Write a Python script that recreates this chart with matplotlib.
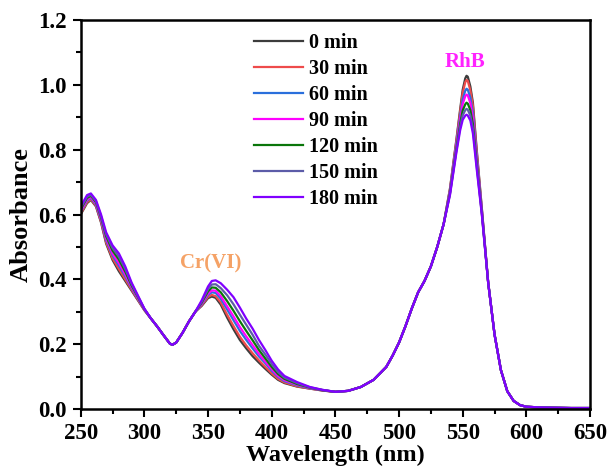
import matplotlib
matplotlib.use('Agg')
import matplotlib.pyplot as plt
from matplotlib.ticker import MultipleLocator

plt.rcParams['font.family'] = ['Liberation Serif', 'DejaVu Serif']
plt.rcParams['font.weight'] = 'bold'

# wavelength grid (nm)
wl = [250, 255, 258, 262, 266, 270, 275, 280, 285, 290, 295, 300,
      305, 310, 315, 320, 322, 325, 330, 335, 340,
      345, 350, 353, 356, 360, 365, 370, 375, 380, 385, 390, 395, 400, 405, 410, 420, 430, 440,
      450, 460, 470, 480, 490, 495, 500, 505, 510, 515, 520, 525, 530, 535,
      540, 545, 548, 550, 552, 553, 554, 556, 558, 561, 565,
      570, 575, 580, 585, 590, 595, 600, 610, 620, 635, 650]

# shared parts of the spectra (curves overlap here)
dip = [0.280, 0.255, 0.228, 0.202, 0.198, 0.205, 0.235, 0.270, 0.300]
valley = [0.053, 0.056, 0.068, 0.090, 0.130, 0.165, 0.205, 0.255, 0.310, 0.360, 0.395, 0.440, 0.500, 0.570]
tail = [0.390, 0.230, 0.120, 0.055, 0.025, 0.012, 0.007, 0.005, 0.004, 0.003, 0.003]

# absorbance per irradiation time
a0 = ([0.600, 0.635, 0.645, 0.625, 0.575, 0.510, 0.460, 0.425, 0.395, 0.365, 0.335, 0.305] + dip +
      [0.318, 0.342, 0.347, 0.343, 0.322, 0.282, 0.246, 0.213, 0.187, 0.163, 0.143, 0.124, 0.106, 0.090, 0.080, 0.069, 0.063, 0.057] +
      valley + [0.680, 0.830, 0.925, 0.985, 1.020, 1.028, 1.025, 0.995, 0.945, 0.800, 0.620] + tail)
a30 = ([0.603, 0.638, 0.647, 0.627, 0.578, 0.514, 0.465, 0.432, 0.400, 0.368, 0.337, 0.305] + dip +
       [0.320, 0.346, 0.352, 0.348, 0.329, 0.291, 0.256, 0.223, 0.196, 0.172, 0.150, 0.130, 0.110, 0.093, 0.082, 0.070, 0.063, 0.057] +
       valley + [0.678, 0.826, 0.918, 0.975, 1.008, 1.015, 1.012, 0.983, 0.935, 0.793, 0.618] + tail)
a60 = ([0.608, 0.643, 0.651, 0.631, 0.583, 0.521, 0.474, 0.442, 0.409, 0.373, 0.340, 0.307] + dip +
       [0.323, 0.352, 0.360, 0.358, 0.340, 0.307, 0.274, 0.241, 0.213, 0.187, 0.162, 0.141, 0.118, 0.099, 0.086, 0.073, 0.064, 0.058] +
       valley + [0.673, 0.817, 0.904, 0.955, 0.982, 0.988, 0.985, 0.960, 0.914, 0.780, 0.614] + tail)
a90 = ([0.611, 0.646, 0.654, 0.634, 0.586, 0.526, 0.480, 0.450, 0.415, 0.376, 0.342, 0.307] + dip +
       [0.325, 0.356, 0.366, 0.365, 0.348, 0.317, 0.286, 0.253, 0.224, 0.197, 0.170, 0.146, 0.123, 0.102, 0.089, 0.075, 0.065, 0.058] +
       valley + [0.670, 0.811, 0.894, 0.941, 0.965, 0.970, 0.967, 0.944, 0.899, 0.771, 0.611] + tail)
a120 = ([0.616, 0.651, 0.658, 0.638, 0.591, 0.533, 0.489, 0.461, 0.424, 0.381, 0.345, 0.308] + dip +
        [0.328, 0.363, 0.375, 0.374, 0.360, 0.333, 0.303, 0.271, 0.241, 0.212, 0.182, 0.156, 0.130, 0.108, 0.093, 0.077, 0.066, 0.058] +
        valley + [0.666, 0.802, 0.880, 0.921, 0.940, 0.945, 0.942, 0.922, 0.879, 0.759, 0.606] + tail)
a150 = ([0.620, 0.655, 0.661, 0.641, 0.595, 0.539, 0.497, 0.470, 0.432, 0.386, 0.347, 0.309] + dip +
        [0.331, 0.370, 0.384, 0.385, 0.373, 0.351, 0.323, 0.291, 0.260, 0.229, 0.195, 0.168, 0.139, 0.114, 0.097, 0.080, 0.067, 0.059] +
        valley + [0.663, 0.796, 0.870, 0.906, 0.922, 0.926, 0.923, 0.905, 0.864, 0.749, 0.603] + tail)
a180 = ([0.625, 0.660, 0.665, 0.645, 0.600, 0.545, 0.505, 0.480, 0.440, 0.390, 0.350, 0.310] + dip +
        [0.335, 0.378, 0.395, 0.397, 0.388, 0.368, 0.345, 0.313, 0.279, 0.248, 0.213, 0.182, 0.149, 0.122, 0.102, 0.083, 0.068, 0.059] +
        valley + [0.660, 0.790, 0.860, 0.892, 0.905, 0.908, 0.905, 0.890, 0.850, 0.740, 0.600] + tail)

labels = ['0 min', '30 min', '60 min', '90 min', '120 min', '150 min', '180 min']
series = [a0, a30, a60, a90, a120, a150, a180]
colors = ['#3c3c3c', '#ee4b4b', '#2a6fdc', '#ff00ff', '#0a760a', '#5c5ca8', '#8000ff']

fig = plt.figure(figsize=(6.14, 4.71), dpi=100)
ax = fig.add_axes([0.1314, 0.1316, 0.8296, 0.8259])

for y, c, lab in zip(series, colors, labels):
    ax.plot(wl, y, color=c, lw=1.6, label=lab)

ax.set_xlim(250, 650)
ax.set_ylim(0, 1.2)
ax.xaxis.set_major_locator(MultipleLocator(50))
ax.xaxis.set_minor_locator(MultipleLocator(25))
ax.yaxis.set_major_locator(MultipleLocator(0.2))
ax.yaxis.set_minor_locator(MultipleLocator(0.1))
ax.yaxis.set_major_formatter(plt.FormatStrFormatter('%.1f'))
ax.tick_params(which='major', direction='out', length=6, width=1.5, labelsize=16.5, pad=4)
ax.tick_params(which='minor', direction='out', length=3.5, width=1.5)
for s in ax.spines.values():
    s.set_linewidth(1.8)

ax.set_xlabel('Wavelength (nm)', fontsize=17.5, fontweight='bold', labelpad=1)
ax.set_ylabel('Absorbance', fontsize=19, fontweight='bold', labelpad=4)

ax.text(352, 0.45, 'Cr(VI)', color='#f5a266', fontsize=15, fontweight='bold', ha='center', va='center')
ax.text(551.5, 1.072, 'RhB', color='#ff22ff', fontsize=15, fontweight='bold', ha='center', va='center')

leg = ax.legend(loc='upper left', bbox_to_anchor=(0.34, 0.967), frameon=False,
                fontsize=14.5, handlelength=2.45, handletextpad=0.3, labelspacing=0.3,
                borderpad=0, borderaxespad=0)
for t in leg.get_texts():
    t.set_fontweight('bold')

plt.savefig('out.png', dpi=100)
